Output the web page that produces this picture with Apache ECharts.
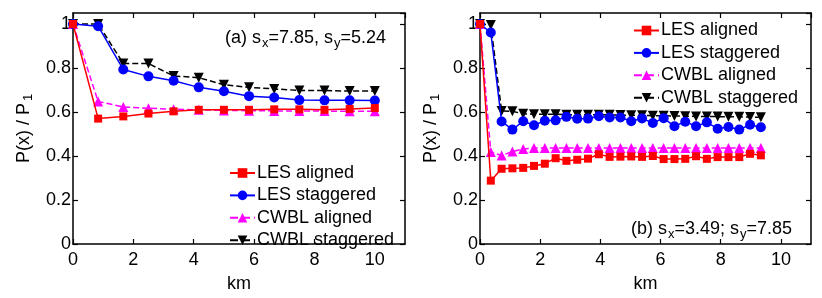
<!DOCTYPE html>
<html><head><meta charset="utf-8">
<script src="https://cdn.jsdelivr.net/npm/echarts@6/dist/echarts.min.js"></script>
<style>html,body{margin:0;padding:0;background:#fff}#c{width:822px;height:298px}</style>
</head><body><div id="c"></div>
<script>
// ---- data ----
const seriesNames = ['LES aligned', 'LES staggered', 'CWBL aligned', 'CWBL staggered'];
const xTicks = [0, 2, 4, 6, 8, 10];
const yTicks = [0, 0.2, 0.4, 0.6, 0.8, 1];

const leftX = [0, 0.833, 1.667, 2.5, 3.333, 4.167, 5, 5.833, 6.667, 7.5, 8.333, 9.167, 10];
const leftLesAligned    = [1, 0.570, 0.580, 0.593, 0.603, 0.610, 0.610, 0.610, 0.612, 0.612, 0.610, 0.614, 0.618];
const leftLesStaggered  = [1, 0.990, 0.793, 0.762, 0.742, 0.712, 0.694, 0.672, 0.666, 0.654, 0.653, 0.653, 0.652];
const leftCwblAligned   = [1, 0.648, 0.623, 0.617, 0.613, 0.610, 0.607, 0.606, 0.605, 0.604, 0.604, 0.603, 0.603];
const leftCwblStaggered = [1, 1.000, 0.820, 0.820, 0.764, 0.756, 0.724, 0.712, 0.705, 0.698, 0.698, 0.695, 0.695];

const rightX = [0, 0.359, 0.718, 1.077, 1.436, 1.795, 2.154, 2.513, 2.872, 3.231, 3.59, 3.949, 4.308, 4.667,
  5.026, 5.385, 5.744, 6.103, 6.462, 6.821, 7.18, 7.539, 7.898, 8.257, 8.616, 8.975, 9.334];
const rightLesAligned    = [1, 0.288, 0.342, 0.344, 0.346, 0.355, 0.365, 0.390, 0.378, 0.383, 0.388, 0.408, 0.396, 0.397,
  0.398, 0.396, 0.400, 0.386, 0.386, 0.387, 0.399, 0.387, 0.395, 0.395, 0.395, 0.410, 0.403];
const rightLesStaggered  = [1, 0.961, 0.557, 0.520, 0.558, 0.540, 0.560, 0.562, 0.578, 0.569, 0.570, 0.581, 0.575, 0.575,
  0.558, 0.571, 0.550, 0.572, 0.535, 0.556, 0.535, 0.553, 0.524, 0.532, 0.520, 0.542, 0.531];
const rightCwblAligned   = [1, 0.418, 0.402, 0.420, 0.432, 0.436, 0.436, 0.436, 0.436, 0.436, 0.436, 0.436, 0.436, 0.436,
  0.436, 0.436, 0.436, 0.436, 0.436, 0.436, 0.436, 0.436, 0.436, 0.436, 0.436, 0.436, 0.436];
const rightCwblStaggered = [1, 0.995, 0.605, 0.603, 0.592, 0.590, 0.590, 0.590, 0.588, 0.588, 0.588, 0.588, 0.587, 0.586,
  0.585, 0.585, 0.583, 0.583, 0.582, 0.581, 0.580, 0.580, 0.579, 0.578, 0.578, 0.577, 0.576];

// ---- chart ----
const FONT = 'Liberation Sans';
const FS = 18;
const styles = [
  {color: '#ff0000', symbol: 'rect', size: 8, type: 'solid'},
  {color: '#0000ff', symbol: 'circle', size: 10, type: 'solid'},
  {color: '#ff00ff', symbol: 'triangle', size: 10, type: 'dashed'},
  {color: '#000000', symbol: 'path://M0,0 L10,0 L5,9 Z', size: 10, type: 'dashed'}
];
function pairs(xs, ys) { return xs.map((x, i) => [x, ys[i]]); }
const leftData = [leftLesAligned, leftLesStaggered, leftCwblAligned, leftCwblStaggered];
const rightData = [rightLesAligned, rightLesStaggered, rightCwblAligned, rightCwblStaggered];

const series = [];
[[leftX, leftData, 0], [rightX, rightData, 1]].forEach(([xs, arrs, g]) => {
  arrs.forEach((ys, i) => {
    const s = styles[i];
    series.push({
      type: 'line', name: seriesNames[i], xAxisIndex: g * 2, yAxisIndex: g * 2,
      data: pairs(xs, ys), symbol: s.symbol, symbolSize: s.size, showSymbol: true,
      lineStyle: {color: s.color, width: 1.5, type: s.type},
      itemStyle: {color: s.color}, animation: false, z: 2 + (3 - i)
    });
  });
});

const grids = [
  {left: 73, top: 13, width: 332, height: 240},
  {left: 480, top: 13, width: 331, height: 240}
];
const labelStyle = {fontFamily: FONT, fontSize: FS, color: '#000'};
const xAxes = [], yAxes = [];
grids.forEach((g, gi) => {
  [false, true].forEach(mirror => {
    xAxes.push({
      type: 'value', gridIndex: gi, min: 0, max: 11, interval: 2,
      position: mirror ? 'top' : 'bottom',
      name: mirror ? '' : 'km', nameLocation: 'middle', nameGap: 31,
      nameTextStyle: {fontFamily: FONT, fontSize: FS, color: '#000'},
      axisLine: {show: true, onZero: false, lineStyle: {color: '#000', width: 1.5}},
      axisTick: {show: true, inside: true, length: 5, lineStyle: {color: '#000', width: 1.2}},
      axisLabel: {show: !mirror, showMaxLabel: false, margin: 7, ...labelStyle,
        formatter: v => xTicks.includes(v) ? String(v) : ''},
      splitLine: {show: false}
    });
    yAxes.push({
      type: 'value', gridIndex: gi, min: 0, max: 1.05, interval: 0.2,
      position: mirror ? 'right' : 'left',
      name: mirror ? '' : '{a|P(x) / P}{s|1}', nameLocation: 'middle', nameGap: 38,
      nameTextStyle: {fontFamily: FONT, fontSize: FS, color: '#000',
        rich: {a: {fontFamily: FONT, fontSize: FS, color: '#000'},
               s: {fontFamily: FONT, fontSize: 13, color: '#000', padding: [9, 0, 0, 2]}}},
      axisLine: {show: true, onZero: false, lineStyle: {color: '#000', width: 1.5}},
      axisTick: {show: true, inside: true, length: 5, lineStyle: {color: '#000', width: 1.2}},
      axisLabel: {show: !mirror, showMaxLabel: false, margin: 2, ...labelStyle,
        formatter: v => { const m = yTicks.find(t => Math.abs(t - v) < 1e-6); return m === undefined ? '' : String(m); }},
      splitLine: {show: false}
    });
  });
});

const rich = {
  a: {fontFamily: FONT, fontSize: FS, fontWeight: 'normal', color: '#000'},
  s: {fontFamily: FONT, fontSize: 13, fontWeight: 'normal', color: '#000', padding: [10, 0, 0, 1]}
};
const legendBase = {
  orient: 'vertical', itemWidth: 25, itemHeight: 12, itemGap: 4.4, padding: 0,
  textStyle: {fontFamily: FONT, fontSize: FS, lineHeight: 18, color: '#000', padding: [0, 0, 0, -3]},
  data: seriesNames, selectedMode: false
};

const chart = echarts.init(document.getElementById('c'), null, {renderer: 'canvas'});
chart.setOption({
  animation: false,
  backgroundColor: '#fff',
  grid: grids,
  xAxis: xAxes,
  yAxis: yAxes,
  series: series,
  legend: [
    Object.assign({}, legendBase, {left: 229, top: 164}),
    Object.assign({}, legendBase, {left: 633, top: 21.5})
  ],
  title: [
    {text: '{a|(a) s}{s|x}{a|=7.85, s}{s|y}{a|=5.24}', left: 225, top: 27, padding: 0, textStyle: {fontWeight: 'normal', rich}},
    {text: '{a|(b) s}{s|x}{a|=3.49; s}{s|y}{a|=7.85}', left: 631, top: 218, padding: 0, textStyle: {fontWeight: 'normal', rich}}
  ]
});
</script></body></html>
